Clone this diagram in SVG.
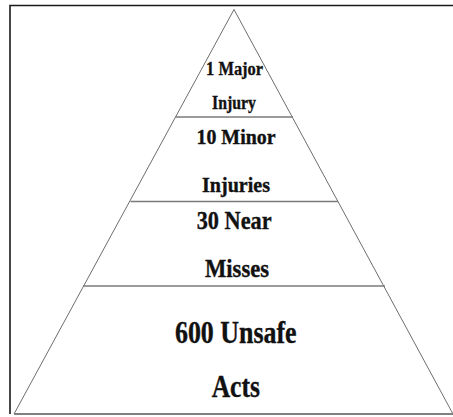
<svg xmlns="http://www.w3.org/2000/svg" width="453" height="417" viewBox="0 0 453 417">
<style>
.frame{stroke:#1a1a1a;stroke-width:1.6;fill:none}
.side{stroke:#6e6e6e;stroke-width:1;fill:none}
.tier{stroke:#7a7a7a;stroke-width:1.5;fill:none}
.base{stroke:#808080;stroke-width:2;fill:none}
text{font-family:"Liberation Serif","Times New Roman",serif;font-weight:bold;fill:#111;stroke:#111;stroke-width:0.35;text-anchor:middle}
</style>
<rect width="453" height="417" fill="#fff"/>
<g id="frame">
<path class="frame" d="M10,414 V5.5 H453"/>
</g>
<g id="pyramid">
<path class="side" d="M14,414 L234,9.5 L453,414"/>
<line class="tier" x1="175.5" y1="117" x2="293" y2="117"/>
<line class="tier" x1="130.5" y1="201.5" x2="338" y2="201.5"/>
<line class="tier" x1="83" y1="286" x2="385" y2="286"/>
<line class="base" x1="14" y1="414" x2="453" y2="414"/>
</g>
<g id="tier1">
<text x="234.6" y="75" font-size="18.5" textLength="57" lengthAdjust="spacingAndGlyphs">1 Major</text>
<text x="234" y="108.5" font-size="18.5" textLength="44" lengthAdjust="spacingAndGlyphs">Injury</text>
</g>
<g id="tier2">
<text x="236" y="144" font-size="20.5" textLength="79" lengthAdjust="spacingAndGlyphs">10 Minor</text>
<text x="236" y="191.7" font-size="20.5" textLength="68" lengthAdjust="spacingAndGlyphs">Injuries</text>
</g>
<g id="tier3">
<text x="234.2" y="229" font-size="25.5" textLength="75" lengthAdjust="spacingAndGlyphs">30 Near</text>
<text x="237" y="276.7" font-size="25.5" textLength="64" lengthAdjust="spacingAndGlyphs">Misses</text>
</g>
<g id="tier4">
<text x="235.8" y="343.3" font-size="30.5" textLength="121.7" lengthAdjust="spacingAndGlyphs">600 Unsafe</text>
<text x="235.8" y="396.7" font-size="30.5" textLength="48.3" lengthAdjust="spacingAndGlyphs">Acts</text>
</g>
</svg>
